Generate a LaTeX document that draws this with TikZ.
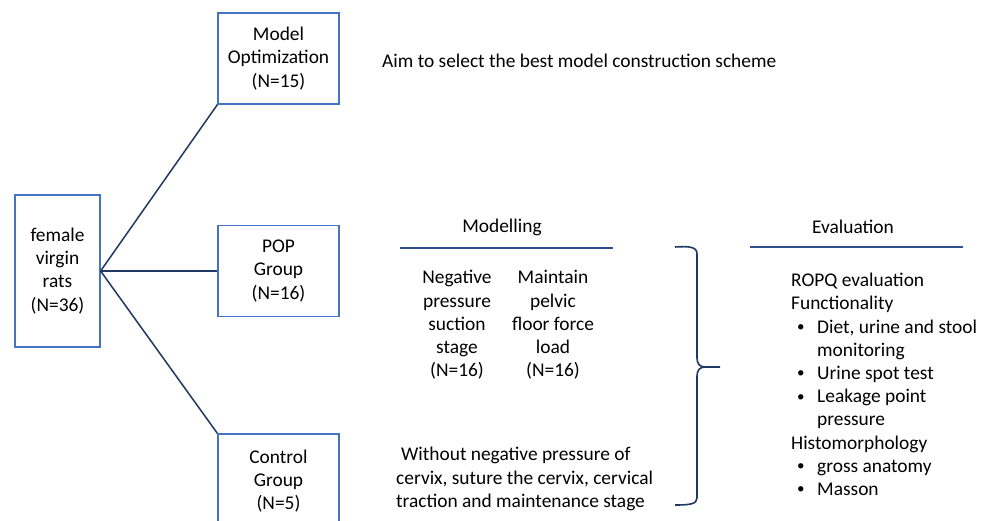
\documentclass[tikz,border=0pt]{standalone}
\usepackage{fontspec}
\setmainfont{Carlito}
\usepackage{xcolor}
\usepackage{tikz}
\usetikzlibrary{positioning,calc}
\definecolor{boxblue}{RGB}{68,114,196}
\definecolor{linknavy}{RGB}{32,56,100}
\definecolor{rulenavy}{RGB}{47,80,140}
\tikzset{
  grp/.style={draw=boxblue, line width=1.2pt, align=center, inner sep=0pt,
              minimum width=121pt, minimum height=91pt},
  srcbox/.style={grp, minimum width=85pt, minimum height=152pt},
  link/.style={linknavy, line width=1.5pt},
  hrule/.style={rulenavy, line width=1.8pt},
  brace/.style={linknavy, line width=1.6pt},
  txt/.style={align=center, inner sep=0pt},
  ltxt/.style={align=left, inner sep=0pt, anchor=west}
}
\newcommand{\bitem}[1]{\hspace*{6pt}\makebox[20pt][l]{\raisebox{1.5pt}{\fontsize{15}{15}\selectfont•}}#1}
\newcommand{\bcont}[1]{\hspace*{26pt}#1}

\begin{document}
\begin{tikzpicture}[x=1pt, y=-1pt, font=\fontsize{19.4}{23.2}\selectfont]
\clip (0,0) rectangle (987,521);
\fill[white] (0,0) rectangle (987,521);
% groups
\node[srcbox] (rats) at (57.5,271) {female\\virgin\\rats\\(N=36)};
\node[grp] (opt) at (278.5,58.5) {Model\\Optimization\\(N=15)};
\node[grp] (pop) at (278.5,271) {POP\\Group\\(N=16)};
\node[grp, minimum height=94pt] (ctrl) at (278.5,481) {Control\\Group\\(N=5)};
\draw[link] (rats.east) -- (opt.south west);
\draw[link] (rats.east) -- (pop.west);
\draw[link] (rats.east) -- (ctrl.north west);
% modelling
\node[ltxt] (aim) at (382,61) {Aim to select the best model construction scheme};
\node[txt] (mhead) at (502,227) {Modelling};
\draw[hrule] (400,248) -- (613,248);
\node[txt] (suct) at (457,325) {Negative\\pressure\\suction\\stage\\(N=16)};
\node[txt] (load) at (553,325) {Maintain\\pelvic\\floor force\\load\\(N=16)};
\node[ltxt] (ctext) at (396,479) {\hspace*{5pt}Without negative pressure of\\cervix, suture the cervix, cervical\\traction and maintenance stage};
% brace
\draw[brace] (675,247) .. controls (690,246) and (697,247) .. (697,254) -- (697,358)
  .. controls (697,364) and (700,367) .. (705,367) -- (720,367);
\draw[brace] (705,367) .. controls (700,367) and (697,370) .. (697,376) -- (697,498)
  .. controls (697,504) and (690,505) .. (675,505);
% evaluation
\node[txt] (ehead) at (853,227) {Evaluation};
\draw[hrule] (750,247) -- (963,247);
\node[ltxt, anchor=north west] (eval) at (791,273) {ROPQ evaluation\\Functionality\\
  \bitem{Diet, urine and stool}\\\bcont{monitoring}\\\bitem{Urine spot test}\\
  \bitem{Leakage point}\\\bcont{pressure}\\Histomorphology\\
  \bitem{gross anatomy}\\\bitem{Masson}};
\end{tikzpicture}
\end{document}
